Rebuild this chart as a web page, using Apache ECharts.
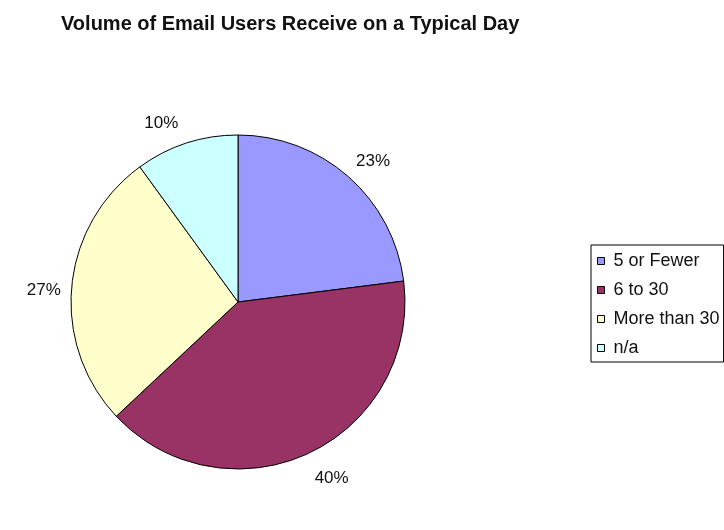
<!DOCTYPE html>
<html>
<head>
<meta charset="utf-8">
<script src="https://cdn.jsdelivr.net/npm/echarts@6/dist/echarts.min.js"></script>
<style>
html, body { margin: 0; padding: 0; background: #fff; }
#echarts_box { width: 724px; height: 530px; }
</style>
</head>
<body>
<div id="echarts_box"></div>
<script>
var categories = ["5 or Fewer", "6 to 30", "More than 30", "n/a"];
var shares = [23, 40, 27, 10];
var colors = ["#9999ff", "#993366", "#ffffcc", "#ccffff"];

var myecharts = echarts.init(document.getElementById("echarts_box"));
// 饼图数据
var pieData = categories.map(function (name, i) {
  return { name: name, value: shares[i], itemStyle: { color: colors[i] } };
});
// 标签微调 (Excel 风格的标签位置)
var labelShift = [[-6, -6], [-5, 13], [7, 5], [1, -7]];
var option = {
  animation: false,
  title: {
    text: "Volume of Email Users Receive on a Typical Day",
    left: 56,
    top: 9,
    textStyle: {
      fontFamily: "Liberation Sans, Arial",
      fontSize: 20,
      fontWeight: "bold",
      color: "#111"
    }
  },
  legend: {
    orient: "vertical",
    left: 591,
    top: 245,
    padding: [7, 4, 5, 6],
    itemGap: 11,
    itemWidth: 7,
    itemHeight: 7,
    icon: "rect",
    backgroundColor: "#fff",
    borderColor: "#000",
    borderWidth: 1,
    itemStyle: { borderColor: "#000", borderWidth: 1 },
    textStyle: {
      fontFamily: "Liberation Sans, Arial",
      fontSize: 18,
      color: "#111",
      padding: [0, 0, 0, 4]
    },
    data: categories
  },
  series: [
    {
      type: "pie",
      center: [238, 302],
      radius: 167,
      startAngle: 90,
      clockwise: true,
      data: pieData,
      itemStyle: { borderColor: "#000", borderWidth: 1 },
      label: {
        show: true,
        position: "outside",
        formatter: "{c}%",
        fontFamily: "Liberation Sans, Arial",
        fontSize: 17,
        color: "#111"
      },
      labelLine: { show: false, length: 13, length2: 0 },
      labelLayout: function (params) {
        var s = labelShift[params.dataIndex];
        return { dx: s[0], dy: s[1] };
      },
      emphasis: { disabled: true }
    }
  ]
};
myecharts.setOption(option);
</script>
</body>
</html>
